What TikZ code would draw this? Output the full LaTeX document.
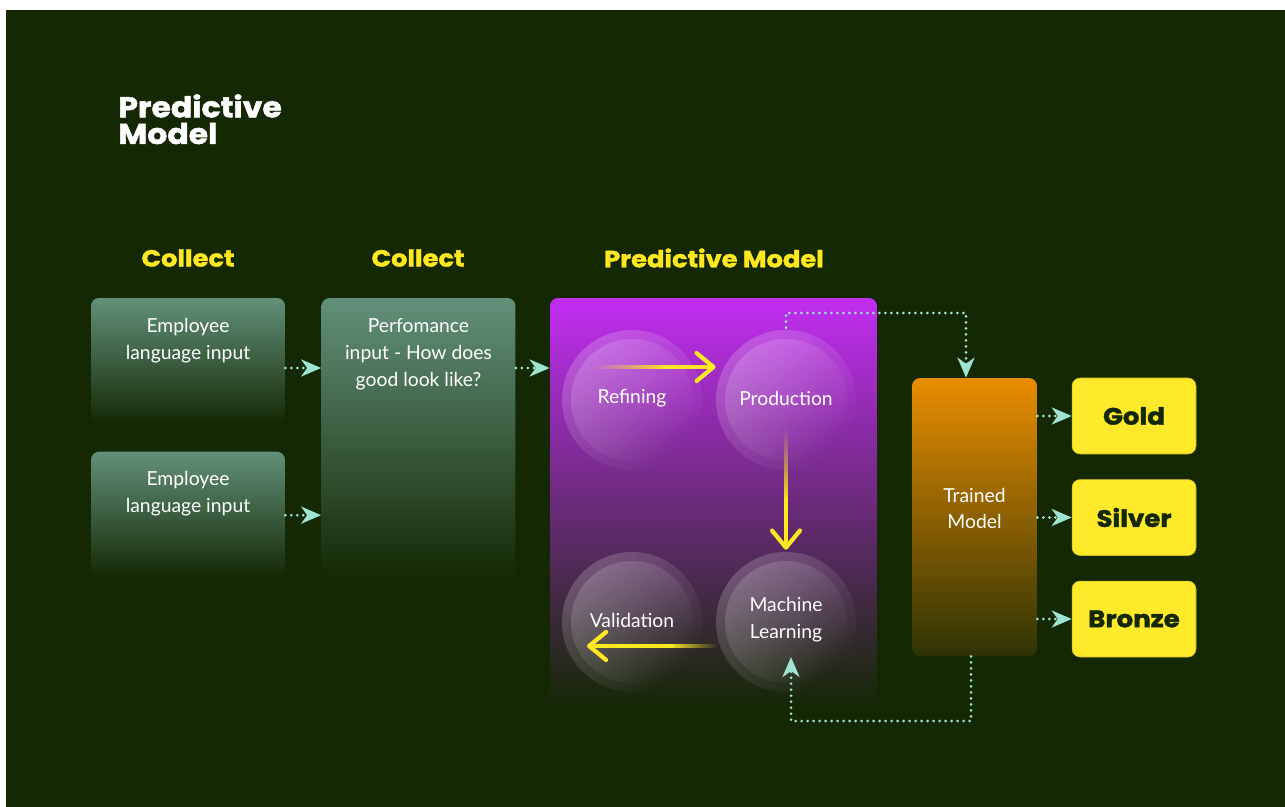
\documentclass[tikz,border=0pt]{standalone}
\usepackage{fontspec}
\setmainfont{Lato}
\newfontfamily\headfont{Poppins}[UprightFont=* Bold, FakeStretch=1.1, FakeBold=1.6]
\usetikzlibrary{positioning, arrows.meta, fadings}

\definecolor{darkbg}{HTML}{132803}
\definecolor{boxgreen}{HTML}{62907A}
\definecolor{headyellow}{HTML}{FFE821}
\definecolor{medalyellow}{HTML}{FFE92B}
\definecolor{flowteal}{HTML}{9FE3D3}
\definecolor{purpletop}{HTML}{C22DF2}
\definecolor{purplemid}{HTML}{6E2A80}
\definecolor{orangetop}{HTML}{E98D00}
\definecolor{orangemid}{HTML}{8A5C02}
\definecolor{orangelow}{HTML}{2E3305}

\tikzfading[name=fade in east, left color=transparent!100, right color=transparent!0]
\tikzfading[name=fade in west, left color=transparent!0, right color=transparent!100]
\tikzfading[name=fade in south, top color=transparent!100, bottom color=transparent!0]
\tikzfading[name=orb fade, top color=transparent!0, middle color=transparent!55, bottom color=transparent!100]

\begin{document}
\begin{tikzpicture}[x=0.02cm, y=-0.02cm,
  every node/.style={text=white, font=\fontsize{11}{15.3}\selectfont},
  heading/.style={text=headyellow, font=\headfont\fontsize{13.3}{16}\selectfont},
  inputbox/.style={rounded corners=0.16cm, top color=boxgreen, bottom color=darkbg, minimum width=3.88cm},
  orb/.style={circle, minimum size=2.8cm, inner sep=0pt},
  medal/.style={rectangle, rounded corners=0.16cm, fill=medalyellow, draw=medalyellow!80!black, line width=0.3pt,
    minimum width=2.48cm, minimum height=1.52cm, text=darkbg, font=\headfont\fontsize{13.5}{16}\selectfont},
  flow/.style={flowteal, line width=1.7pt, dash pattern=on 0pt off 0.12cm, line cap=round,
    -{Stealth[length=0.4cm, width=0.34cm, inset=0.12cm]}},
  ytail/.style={headyellow, line width=2.4pt},
  yarrow/.style={headyellow, line width=2.4pt, line cap=round,
    -{Straight Barb[length=0.34cm, width=0.56cm, round]}}
]

% canvas
\fill[white] (0,0) rectangle (1285,807);
\fill[darkbg] (6,10) rectangle (1285,807);
\useasboundingbox (0,0) rectangle (1285,807);

% title
\node[anchor=north west, inner sep=0pt, align=left, font=\headfont\fontsize{16.3}{15.2}\selectfont] (title) at (118,94) {Predictive\\Model};

% column headings
\node[heading] (colA) at (188,258) {Collect};
\node[heading] (colB) at (418,258) {Collect};
\node[heading] (colC) at (714,258) {Predictive Model};

% collect boxes
\node[inputbox, minimum height=2.54cm] (emp1) at (188,361.5) {};
\node[inputbox, minimum height=2.54cm, below=0.52cm of emp1] (emp2) {};
\node[inputbox, minimum height=5.64cm] (perf) at (418.5,439) {};
\node[anchor=north, inner sep=0pt, align=center] (emp1txt) at (emp1.north |- 0,318) {Employee\\language input};
\node[anchor=north, inner sep=0pt, align=center] (emp2txt) at (emp2.north |- 0,471) {Employee\\language input};
\node[anchor=north, inner sep=0pt, align=center] (perftxt) at (perf.north |- 0,318) {Perfomance\\input - How does\\good look like?};

% predictive model panel
\node[rounded corners=0.16cm, top color=purpletop, middle color=purplemid, bottom color=darkbg,
  minimum width=6.54cm, minimum height=8.24cm] (predict) at (713.5,504) {};

% spheres
\foreach \cx/\cy in {632/400, 786/400, 632/622, 786/622} {
  \fill[white, fill opacity=0.2, path fading=orb fade, fading angle=45] (\cx,\cy) circle (1.4cm);
  \fill[white, fill opacity=0.16, path fading=orb fade, fading angle=45] (\cx,\cy) circle (1.22cm);
}
\node[orb] (refine) at (632,398) {Refining};
\node[orb] (product) at (786,398) {Production};
\node[orb] (valid) at (632,620) {Validation};
\node[orb, align=center] (mlearn) at (786,620) {Machine\\Learning};

% cycle arrows (faded tail, solid head)
\draw[ytail, path fading=fade in east] ([xshift=-0.74cm, yshift=0.62cm]refine.center) -- ([xshift=-1cm, yshift=0.62cm]product.west);
\draw[yarrow] ([xshift=-1.02cm, yshift=0.62cm]product.west) -- ([yshift=0.62cm]product.west);

\draw[ytail, path fading=fade in south] ([yshift=-0.66cm]product.center) -- ([yshift=1cm]mlearn.north);
\draw[yarrow] ([yshift=1.02cm]mlearn.north) -- (mlearn.north);

\draw[ytail, path fading=fade in west] ([yshift=-0.52cm]mlearn.west) -- ([xshift=-0.9cm, yshift=-0.52cm]mlearn.west);
\draw[yarrow] ([xshift=-0.88cm, yshift=-0.52cm]mlearn.west) -- ([xshift=-0.9cm, yshift=-0.52cm]valid.center);

% trained model and medals
\node[rounded corners=0.16cm, top color=orangetop, middle color=orangemid, bottom color=orangelow,
  minimum width=2.5cm, minimum height=5.56cm] (trained) at (974.5,517) {};
\node[align=center] (trainedtxt) at ([yshift=0.17cm]trained.center) {Trained\\Model};

\node[medal] (gold) at (1134,416) {Gold};
\node[medal, below=0.5cm of gold] (silver) {Silver};
\node[medal, below=0.5cm of silver] (bronze) {Bronze};

% dotted flows
\draw[flow] ([yshift=-0.13cm]emp1.east) -- ([yshift=-0.13cm]emp1.east -| perf.west);
\draw[flow] (emp2.east) -- (emp2.east -| perf.west);
\draw[flow] ([yshift=-0.13cm]emp1.east -| perf.east) -- ([yshift=-0.13cm]emp1.east -| predict.west);

\coordinate (topbend) at (966,313);
\draw[flow] (product.north) |- (topbend) -- (topbend |- trained.north);

\coordinate (lowbend) at (971,721);
\coordinate (mlin) at (791,657);
\draw[flow] (lowbend |- trained.south) -- (lowbend) -| (mlin);

\foreach \m in {gold, silver, bronze}
  \draw[flow] (trained.east |- \m.west) -- (\m.west);

\end{tikzpicture}
\end{document}
